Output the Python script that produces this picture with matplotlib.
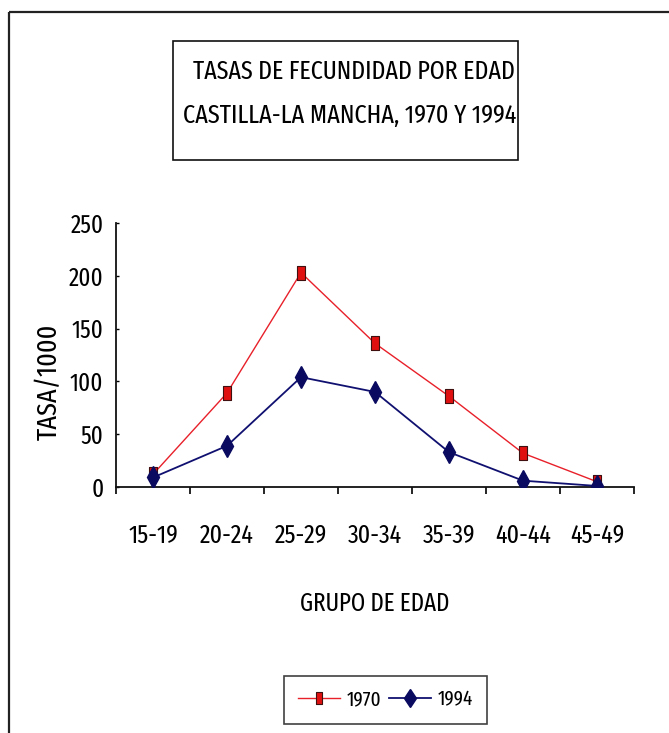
import matplotlib
matplotlib.use("Agg")
import matplotlib.pyplot as plt
from matplotlib.patches import Rectangle
from matplotlib import font_manager

age_groups = ["15-19", "20-24", "25-29", "30-34", "35-39", "40-44", "45-49"]
rates_1970 = [12, 89, 203, 136, 86, 32, 5]
rates_1994 = [9, 39, 104, 90, 33, 6, 1]
series_names = ["1970", "1994"]
y_ticks = [0, 50, 100, 150, 200, 250]
title_lines = ["TASAS DE FECUNDIDAD POR EDAD", "CASTILLA-LA MANCHA, 1970 Y 1994"]
y_label = "TASA/1000"
x_label = "GRUPO DE EDAD"

# pick a tightly condensed sans face when one is installed
installed = {f.name for f in font_manager.fontManager.ttflist}
preferred = ["Fira Sans Extra Condensed", "Sofia Sans Extra Condensed", "Saira Extra Condensed",
             "Barlow Condensed", "Roboto Condensed", "Liberation Sans"]
narrow = next((n for n in preferred if n in installed), "DejaVu Sans")
plt.rcParams["font.family"] = [narrow, "DejaVu Sans"]

W, H = 669, 733
fig = plt.figure(figsize=(W / 100, H / 100), dpi=100)
fig.patch.set_facecolor("white")
renderer = fig.canvas.get_renderer()


def size_for_width(s, target_px, max_size, ref_size=20):
    """Font size at which string s renders target_px wide (capped at max_size)."""
    probe = fig.text(0, 0, s, fontsize=ref_size)
    w = probe.get_window_extent(renderer).width
    probe.remove()
    return min(ref_size * target_px / w, max_size)


# outer chart frame (runs off the right and bottom edges)
fig.add_artist(Rectangle((9 / W, 1 - 12 / H), 2, -2, transform=fig.transFigure,
                         fill=False, edgecolor="#222222", linewidth=1.6, clip_on=False))

# title box
fig.add_artist(Rectangle((173 / W, 1 - 160 / H), (518 - 173) / W, (160 - 41) / H,
                         transform=fig.transFigure, fill=False, edgecolor="#111111",
                         linewidth=1.2))
fig.text(515 / W, 1 - 72 / H, title_lines[0], ha="right", va="center",
         fontsize=size_for_width(title_lines[0], 322, 26), color="black")
fig.text(516 / W, 1 - 116 / H, title_lines[1], ha="right", va="center",
         fontsize=size_for_width(title_lines[1], 334, 26), color="black")

ax = fig.add_axes([116 / W, 1 - 487 / H, (634 - 116) / W, (487 - 223) / H])
x = list(range(len(age_groups)))
tall_box = [(-0.55, -1), (0.55, -1), (0.55, 1), (-0.55, 1), (-0.55, -1)]
ax.plot(x, rates_1970, color="#e8202a", linewidth=1.0, marker=tall_box, markersize=10,
        markerfacecolor="#e01010", markeredgecolor="#401010", markeredgewidth=0.8,
        label=series_names[0], zorder=3)
ax.plot(x, rates_1994, color="#101070", linewidth=1.3, marker="d", markersize=11,
        markerfacecolor="#0a0a60", markeredgecolor="#0a0a60",
        label=series_names[1], zorder=4)

ax.set_xlim(-0.5, len(age_groups) - 0.5)
ax.set_ylim(0, 250)
ax.set_yticks(y_ticks)
ax.set_yticklabels([str(v) for v in y_ticks], fontsize=size_for_width("250", 33, 26))
ax.set_xticks(x)
ax.set_xticklabels(age_groups, fontsize=size_for_width("15-19", 50, 26))
ax.set_xticks([i - 0.5 for i in range(len(age_groups) + 1)], minor=True)
ax.tick_params(axis="x", which="major", length=0, pad=26)
ax.tick_params(axis="x", which="minor", length=5, width=1.2, direction="out")
ax.tick_params(axis="y", length=2, width=1.0, direction="in", pad=9)
for s in ["top", "right"]:
    ax.spines[s].set_visible(False)
for s in ["left", "bottom"]:
    ax.spines[s].set_linewidth(1.3)
    ax.spines[s].set_color("#111111")

ax.set_ylabel(y_label, fontsize=size_for_width(y_label, 117, 26))
ax.yaxis.set_label_coords(-0.104, 0.40)
ax.set_xlabel(x_label, fontsize=size_for_width(x_label, 150, 26))
ax.xaxis.set_label_coords(0.5, -0.395)

leg = fig.legend(loc="center", bbox_to_anchor=(385.5 / W, 1 - 700 / H), ncol=2,
                 fontsize=15, frameon=True, fancybox=False, markerscale=0.85,
                 edgecolor="#111111", handlelength=2.0, columnspacing=0.4,
                 handletextpad=0.3, borderpad=0.7)
leg.get_frame().set_linewidth(1.2)

fig.savefig("out.png", dpi=100, facecolor="white")
